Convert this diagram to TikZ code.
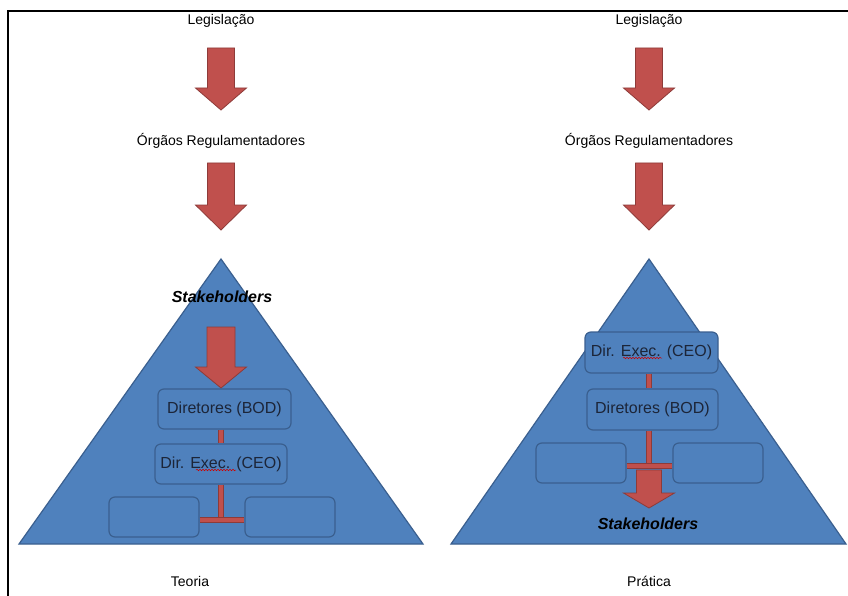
\documentclass[tikz,border=0pt]{standalone}
\usepackage{fontspec}
\setmainfont{Liberation Sans}
\usetikzlibrary{decorations.pathmorphing}
\definecolor{triblue}{HTML}{4F81BD}
\definecolor{triedge}{HTML}{3A5F8F}
\definecolor{arrred}{HTML}{C0504D}
\definecolor{arredge}{HTML}{8E3B39}
\definecolor{boxtext}{HTML}{1C2538}
\newcommand\blockarrow[6]{% cx, top, headstart, tip, shafthalf, headhalf
  \draw[arrowshape] (#1-#5,#2) -- (#1+#5,#2) -- (#1+#5,#3) -- (#1+#6,#3)
     -- (#1,#4) -- (#1-#6,#3) -- (#1-#5,#3) -- cycle;}
\tikzset{
  arrowshape/.style={fill=arrred, draw=arredge, line width=0.8pt, line join=miter},
  pyramid/.style={fill=triblue, draw=triedge, line width=1.2pt, line join=miter},
  orgbox/.style={rectangle, rounded corners=6pt, fill=triblue, draw=triedge,
     line width=1.2pt, text=boxtext, font=\fontsize{16}{18}\selectfont, inner sep=0pt},
  plain/.style={font=\fontsize{14}{16}\selectfont, text=black, inner sep=0pt},
  stake/.style={font=\fontsize{16}{18}\selectfont\bfseries\itshape, text=black, inner sep=0pt},
  bar/.style={draw=arredge, line width=0.8pt, double=arrred, double distance=4.5pt},
  spell/.style={draw=red!80!black, line width=0.5pt,
     decorate, decoration={snake, amplitude=0.8pt, segment length=3pt}}
}
\begin{document}
\begin{tikzpicture}[x=1pt, y=-1pt]
\useasboundingbox (0,0) rectangle (848,596);
\fill[white] (0,0) rectangle (848,596);
% frame
\draw[line width=2pt, black] (8,596) -- (8,11) -- (848,11);

% ---------- left: Teoria ----------
\node[plain] (legL) at (221,21) {Legislação};
\blockarrow{221}{48}{88}{110}{13.5}{25.5}
\node[plain] (orgL) at (221,141) {Órgãos Regulamentadores};
\blockarrow{221}{163}{205}{230}{13.5}{25.5}
\draw[pyramid] (221,259) -- (423,544) -- (19,544) -- cycle;
\node[stake] (stkL) at (222,297) {Stakeholders};
\blockarrow{221}{327}{367}{388}{14}{25.5}
\node[orgbox, minimum width=133pt, minimum height=40pt] (bodL) at (224.5,409) {Diretores (BOD)};
\node[orgbox, minimum width=132pt, minimum height=40pt] (ceoL) at (221,464) {Dir. Exec. (CEO)};
\node[orgbox, minimum width=90pt, minimum height=40pt] (lbL) at (154,517) {};
\node[orgbox, minimum width=90pt, minimum height=40pt] (rbL) at (290,517) {};
\draw[bar] (bodL.south -| ceoL.south) -- (ceoL.north);
\draw[bar] (ceoL.south) -- ([yshift=-3pt]ceoL.south |- lbL.east);
\draw[bar] ([yshift=-3pt]lbL.east) -- ([yshift=-3pt]rbL.west);
\draw[spell] (196,470) -- (236,470);
\node[plain] (teoria) at (190,581) {Teoria};

% ---------- right: Prática ----------
\node[plain] (legR) at (649,21) {Legislação};
\blockarrow{649}{48}{88}{110}{13.5}{25.5}
\node[plain] (orgR) at (649,141) {Órgãos Regulamentadores};
\blockarrow{649}{163}{205}{230}{13.5}{25.5}
\draw[pyramid] (649,259) -- (846,544) -- (451,544) -- cycle;
\node[orgbox, minimum width=133pt, minimum height=41pt] (ceoR) at (651.5,352.5) {Dir. Exec. (CEO)};
\node[orgbox, minimum width=131pt, minimum height=41pt] (bodR) at (652.5,409.5) {Diretores (BOD)};
\node[orgbox, minimum width=90pt, minimum height=40pt] (lbR) at (581,463) {};
\node[orgbox, minimum width=90pt, minimum height=40pt] (rbR) at (718,463) {};
\draw[bar] (ceoR.south -| 649,0) -- (bodR.north -| 649,0);
\draw[bar] (bodR.south -| 649,0) -- (649,466);
\draw[bar] ([yshift=-3pt]lbR.east) -- ([yshift=-3pt]rbR.west);
\blockarrow{649}{470}{493}{508}{12.5}{25.5}
\node[stake] (stkR) at (648,524) {Stakeholders};
\draw[spell] (623,358) -- (662,358);
\node[plain] (pratica) at (649,581) {Prática};
\end{tikzpicture}
\end{document}
